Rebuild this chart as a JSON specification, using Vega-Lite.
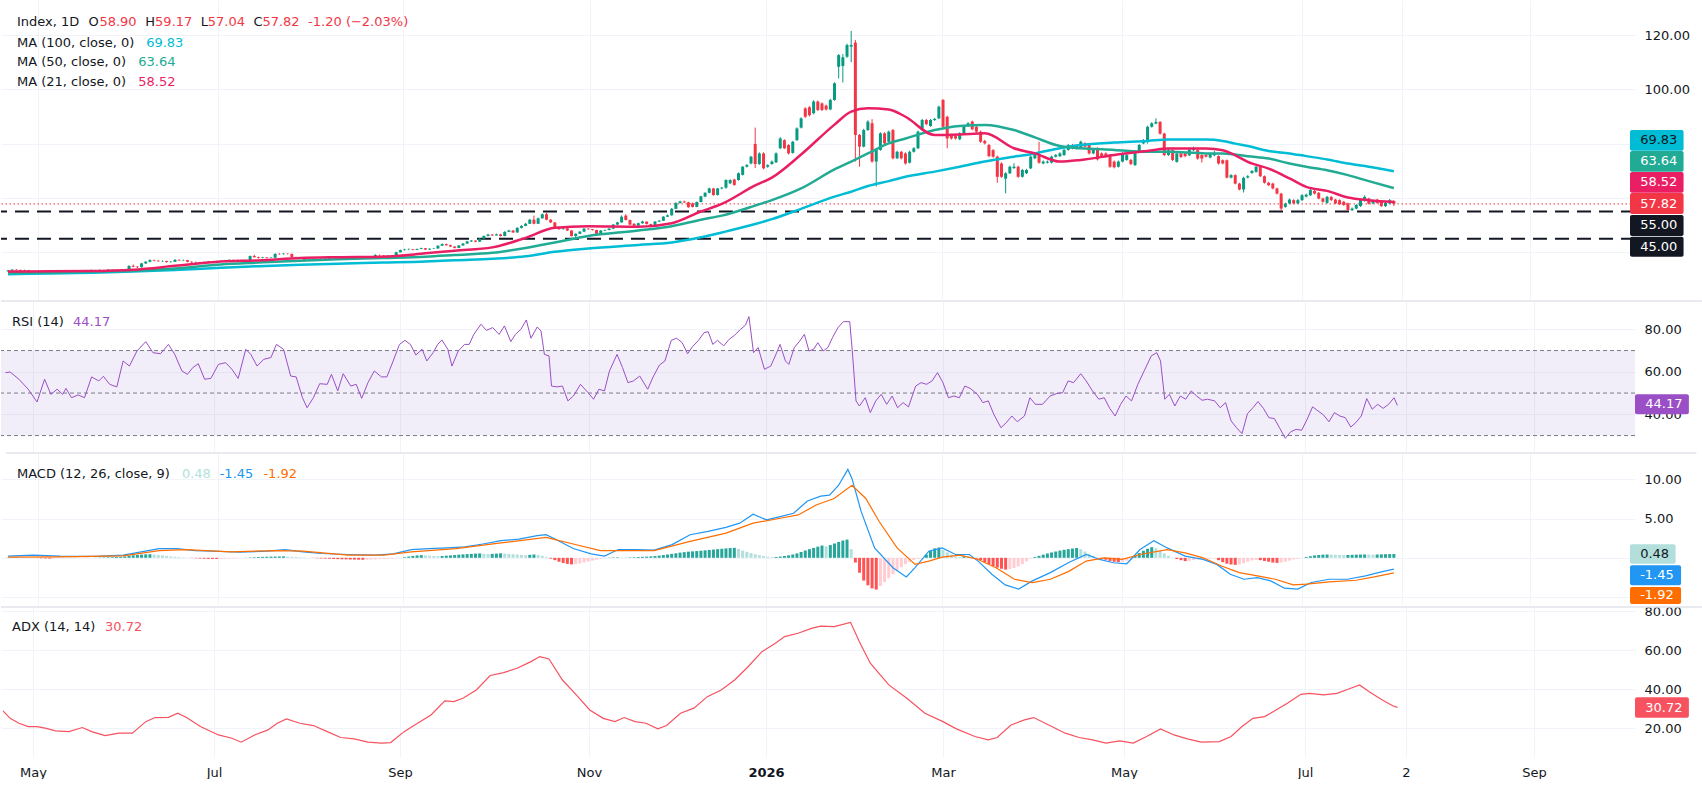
{
  "$schema": "https://vega.github.io/schema/vega-lite/v6.json",
  "background": "#ffffff",
  "padding": 0,
  "spacing": 0,
  "config": {
    "view": {"stroke": null},
    "font": "DejaVu Sans",
    "axis": {"labelFont": "DejaVu Sans", "labelFontSize": 13, "labelColor": "#131722", "gridColor": "#f0f3fa", "gridWidth": 1},
    "text": {"font": "DejaVu Sans", "fontSize": 13}
  },
  "resolve": {"scale": {"x": "independent", "y": "independent"}, "axis": {"x": "independent", "y": "independent"}},
  "datasets": {
    "candles": [
      {"b":0,"o":33.0,"h":33.5,"l":32.8,"c":33.3},{"b":1,"o":33.3,"h":33.8,"l":33.1,"c":33.6},{"b":2,"o":33.6,"h":33.8,"l":33.3,"c":33.5},{"b":3,"o":33.5,"h":33.6,"l":33.0,"c":33.2},{"b":4,"o":33.2,"h":33.6,"l":33.0,"c":33.4},{"b":5,"o":33.4,"h":33.5,"l":32.8,"c":33.0},{"b":6,"o":33.0,"h":33.2,"l":32.6,"c":32.8},{"b":7,"o":32.8,"h":33.1,"l":32.6,"c":32.9},{"b":8,"o":32.9,"h":33.0,"l":32.5,"c":32.7},{"b":9,"o":32.7,"h":33.3,"l":32.6,"c":33.1},
      {"b":10,"o":33.1,"h":33.4,"l":32.9,"c":33.2},{"b":11,"o":33.2,"h":33.3,"l":32.7,"c":32.9},{"b":12,"o":32.9,"h":33.2,"l":32.7,"c":33.0},{"b":13,"o":33.0,"h":33.3,"l":32.8,"c":33.1},{"b":14,"o":33.1,"h":33.5,"l":33.0,"c":33.3},{"b":15,"o":33.3,"h":33.4,"l":32.8,"c":33.0},{"b":16,"o":33.0,"h":33.1,"l":32.6,"c":32.8},{"b":17,"o":32.8,"h":33.1,"l":32.6,"c":32.9},{"b":18,"o":32.9,"h":33.3,"l":32.8,"c":33.1},{"b":19,"o":33.1,"h":33.5,"l":33.0,"c":33.3},
      {"b":20,"o":33.3,"h":33.6,"l":33.1,"c":33.4},{"b":21,"o":33.4,"h":33.5,"l":33.1,"c":33.3},{"b":22,"o":33.3,"h":33.7,"l":33.2,"c":33.5},{"b":23,"o":33.5,"h":33.6,"l":33.2,"c":33.4},{"b":24,"o":33.4,"h":33.8,"l":33.3,"c":33.6},{"b":25,"o":33.6,"h":33.7,"l":33.3,"c":33.5},{"b":26,"o":33.5,"h":33.6,"l":33.2,"c":33.4},{"b":27,"o":33.4,"h":33.7,"l":33.3,"c":33.5},{"b":28,"o":33.5,"h":33.6,"l":33.1,"c":33.3},{"b":29,"o":33.3,"h":35.2,"l":33.2,"c":35.0},
      {"b":30,"o":35.0,"h":35.5,"l":34.5,"c":34.7},{"b":31,"o":34.7,"h":34.9,"l":34.2,"c":34.5},{"b":32,"o":34.5,"h":36.1,"l":34.4,"c":35.9},{"b":33,"o":35.9,"h":36.8,"l":35.7,"c":36.5},{"b":34,"o":36.5,"h":37.4,"l":36.3,"c":37.1},{"b":35,"o":37.1,"h":37.3,"l":36.7,"c":36.9},{"b":36,"o":36.9,"h":37.1,"l":36.5,"c":36.7},{"b":37,"o":36.7,"h":37.0,"l":36.5,"c":36.8},{"b":38,"o":36.8,"h":36.9,"l":36.2,"c":36.4},{"b":39,"o":36.4,"h":36.8,"l":36.2,"c":36.5},
      {"b":40,"o":36.5,"h":37.5,"l":36.4,"c":37.2},{"b":41,"o":37.2,"h":37.4,"l":36.8,"c":37.0},{"b":42,"o":37.0,"h":37.3,"l":36.8,"c":37.1},{"b":43,"o":37.1,"h":37.2,"l":36.3,"c":36.5},{"b":44,"o":36.5,"h":36.7,"l":36.1,"c":36.3},{"b":45,"o":36.3,"h":36.6,"l":36.1,"c":36.4},{"b":46,"o":36.4,"h":36.5,"l":36.0,"c":36.2},{"b":47,"o":36.2,"h":36.6,"l":36.1,"c":36.4},{"b":48,"o":36.4,"h":36.8,"l":36.2,"c":36.6},{"b":49,"o":36.6,"h":36.7,"l":36.3,"c":36.5},
      {"b":50,"o":36.5,"h":36.9,"l":36.4,"c":36.7},{"b":51,"o":36.7,"h":37.0,"l":36.5,"c":36.8},{"b":52,"o":36.8,"h":37.2,"l":36.7,"c":37.0},{"b":53,"o":37.0,"h":37.4,"l":36.9,"c":37.2},{"b":54,"o":37.2,"h":37.3,"l":36.8,"c":37.0},{"b":55,"o":37.0,"h":37.3,"l":36.9,"c":37.1},{"b":56,"o":37.1,"h":37.2,"l":36.7,"c":36.9},{"b":57,"o":36.9,"h":37.2,"l":36.8,"c":37.0},{"b":58,"o":37.0,"h":38.8,"l":36.9,"c":38.6},{"b":59,"o":38.6,"h":39.1,"l":38.0,"c":38.2},
      {"b":60,"o":38.2,"h":38.4,"l":37.7,"c":37.9},{"b":61,"o":37.9,"h":38.3,"l":37.8,"c":38.1},{"b":62,"o":38.1,"h":38.2,"l":37.7,"c":37.9},{"b":63,"o":37.9,"h":38.2,"l":37.8,"c":38.0},{"b":64,"o":38.0,"h":39.6,"l":37.9,"c":39.4},{"b":65,"o":39.4,"h":39.7,"l":39.1,"c":39.3},{"b":66,"o":39.3,"h":39.7,"l":39.2,"c":39.5},{"b":67,"o":39.5,"h":39.6,"l":39.2,"c":39.4},{"b":68,"o":39.4,"h":39.5,"l":38.0,"c":38.2},{"b":69,"o":38.2,"h":38.4,"l":37.8,"c":38.0},
      {"b":70,"o":38.0,"h":38.1,"l":37.6,"c":37.8},{"b":71,"o":37.8,"h":37.9,"l":36.8,"c":37.0},{"b":72,"o":37.0,"h":37.5,"l":36.9,"c":37.3},{"b":73,"o":37.3,"h":37.7,"l":37.2,"c":37.5},{"b":74,"o":37.5,"h":37.6,"l":37.0,"c":37.2},{"b":75,"o":37.2,"h":37.6,"l":37.1,"c":37.4},{"b":76,"o":37.4,"h":37.8,"l":37.3,"c":37.6},{"b":77,"o":37.6,"h":38.2,"l":37.5,"c":38.0},{"b":78,"o":38.0,"h":38.3,"l":37.9,"c":38.1},{"b":79,"o":38.1,"h":38.2,"l":37.7,"c":37.9},
      {"b":80,"o":37.9,"h":38.4,"l":37.8,"c":38.2},{"b":81,"o":38.2,"h":38.3,"l":37.8,"c":38.0},{"b":82,"o":38.0,"h":38.5,"l":37.9,"c":38.3},{"b":83,"o":38.3,"h":38.4,"l":37.9,"c":38.1},{"b":84,"o":38.1,"h":38.2,"l":37.6,"c":37.8},{"b":85,"o":37.8,"h":38.4,"l":37.7,"c":38.2},{"b":86,"o":38.2,"h":38.3,"l":37.9,"c":38.1},{"b":87,"o":38.1,"h":38.5,"l":38.0,"c":38.3},{"b":88,"o":38.3,"h":39.3,"l":38.2,"c":39.0},{"b":89,"o":39.0,"h":39.2,"l":38.7,"c":38.9},
      {"b":90,"o":38.9,"h":39.0,"l":38.5,"c":38.7},{"b":91,"o":38.7,"h":39.0,"l":38.6,"c":38.8},{"b":92,"o":38.8,"h":38.9,"l":38.4,"c":38.6},{"b":93,"o":38.6,"h":40.2,"l":38.5,"c":40.0},{"b":94,"o":40.0,"h":41.0,"l":39.9,"c":40.8},{"b":95,"o":40.8,"h":41.3,"l":40.7,"c":41.0},{"b":96,"o":41.0,"h":41.4,"l":40.8,"c":41.1},{"b":97,"o":41.1,"h":41.2,"l":40.7,"c":40.9},{"b":98,"o":40.9,"h":41.4,"l":40.8,"c":41.2},{"b":99,"o":41.2,"h":41.7,"l":41.1,"c":41.5},
      {"b":100,"o":41.5,"h":41.6,"l":40.8,"c":41.0},{"b":101,"o":41.0,"h":41.5,"l":40.9,"c":41.3},{"b":102,"o":41.3,"h":41.6,"l":41.2,"c":41.4},{"b":103,"o":41.4,"h":42.6,"l":41.3,"c":42.4},{"b":104,"o":42.4,"h":43.3,"l":42.3,"c":43.0},{"b":105,"o":43.0,"h":43.2,"l":42.4,"c":42.6},{"b":106,"o":42.6,"h":42.8,"l":41.9,"c":42.1},{"b":107,"o":42.1,"h":42.2,"l":41.4,"c":41.6},{"b":108,"o":41.6,"h":42.7,"l":41.5,"c":42.5},{"b":109,"o":42.5,"h":43.4,"l":42.4,"c":43.2},
      {"b":110,"o":43.2,"h":44.2,"l":43.1,"c":44.0},{"b":111,"o":44.0,"h":44.5,"l":43.8,"c":44.3},{"b":112,"o":44.3,"h":44.4,"l":43.7,"c":43.9},{"b":113,"o":43.9,"h":45.2,"l":43.8,"c":45.0},{"b":114,"o":45.0,"h":46.2,"l":44.9,"c":46.0},{"b":115,"o":46.0,"h":46.8,"l":45.9,"c":46.5},{"b":116,"o":46.5,"h":46.7,"l":46.0,"c":46.2},{"b":117,"o":46.2,"h":46.9,"l":46.1,"c":46.6},{"b":118,"o":46.6,"h":46.8,"l":45.8,"c":46.0},{"b":119,"o":46.0,"h":47.8,"l":45.9,"c":47.5},
      {"b":120,"o":47.5,"h":48.3,"l":47.4,"c":48.0},{"b":121,"o":48.0,"h":48.2,"l":47.1,"c":47.3},{"b":122,"o":47.3,"h":49.2,"l":47.2,"c":49.0},{"b":123,"o":49.0,"h":50.0,"l":48.8,"c":49.7},{"b":124,"o":49.7,"h":50.8,"l":49.6,"c":50.5},{"b":125,"o":50.5,"h":52.3,"l":50.4,"c":52.0},{"b":126,"o":52.0,"h":53.5,"l":50.3,"c":50.5},{"b":127,"o":50.5,"h":52.8,"l":50.4,"c":52.5},{"b":128,"o":52.5,"h":54.3,"l":52.4,"c":54.0},{"b":129,"o":54.0,"h":54.6,"l":51.8,"c":52.0},
      {"b":130,"o":52.0,"h":52.2,"l":50.8,"c":51.0},{"b":131,"o":51.0,"h":51.1,"l":48.8,"c":49.0},{"b":132,"o":49.0,"h":49.2,"l":48.3,"c":48.5},{"b":133,"o":48.5,"h":49.1,"l":48.4,"c":48.8},{"b":134,"o":48.8,"h":49.0,"l":47.8,"c":48.0},{"b":135,"o":48.0,"h":48.1,"l":45.8,"c":46.0},{"b":136,"o":46.0,"h":47.0,"l":45.4,"c":46.8},{"b":137,"o":46.8,"h":47.8,"l":46.7,"c":47.6},{"b":138,"o":47.6,"h":48.9,"l":47.5,"c":48.7},{"b":139,"o":48.7,"h":48.9,"l":48.3,"c":48.5},
      {"b":140,"o":48.5,"h":48.6,"l":48.0,"c":48.2},{"b":141,"o":48.2,"h":48.3,"l":46.3,"c":46.5},{"b":142,"o":46.5,"h":48.2,"l":46.4,"c":48.0},{"b":143,"o":48.0,"h":48.4,"l":47.8,"c":48.2},{"b":144,"o":48.2,"h":48.9,"l":48.1,"c":48.7},{"b":145,"o":48.7,"h":50.4,"l":48.6,"c":50.2},{"b":146,"o":50.2,"h":51.2,"l":50.0,"c":51.0},{"b":147,"o":51.0,"h":53.6,"l":50.9,"c":53.1},{"b":148,"o":53.5,"h":54.0,"l":51.7,"c":51.9},{"b":149,"o":51.9,"h":52.0,"l":50.0,"c":50.2},
      {"b":150,"o":50.5,"h":50.7,"l":49.6,"c":49.8},{"b":151,"o":49.8,"h":50.9,"l":49.7,"c":50.7},{"b":152,"o":50.7,"h":51.6,"l":50.5,"c":51.3},{"b":153,"o":51.3,"h":51.4,"l":50.2,"c":50.4},{"b":154,"o":50.4,"h":50.5,"l":49.2,"c":49.4},{"b":155,"o":49.4,"h":51.5,"l":49.3,"c":51.3},{"b":156,"o":51.3,"h":51.9,"l":51.1,"c":51.6},{"b":157,"o":51.6,"h":53.3,"l":51.5,"c":53.1},{"b":158,"o":53.1,"h":53.9,"l":53.0,"c":53.6},{"b":159,"o":53.6,"h":56.3,"l":53.5,"c":56.0},
      {"b":160,"o":56.0,"h":58.4,"l":55.9,"c":58.1},{"b":161,"o":58.1,"h":59.0,"l":58.0,"c":58.7},{"b":162,"o":58.7,"h":59.0,"l":58.1,"c":58.4},{"b":163,"o":58.4,"h":58.6,"l":56.4,"c":56.6},{"b":164,"o":58.0,"h":58.3,"l":56.5,"c":56.7},{"b":165,"o":56.7,"h":58.7,"l":56.6,"c":58.5},{"b":166,"o":58.5,"h":60.8,"l":58.4,"c":60.6},{"b":167,"o":60.5,"h":62.1,"l":60.3,"c":61.9},{"b":168,"o":61.9,"h":63.8,"l":61.7,"c":63.5},{"b":169,"o":63.5,"h":63.7,"l":60.8,"c":61.1},
      {"b":170,"o":61.1,"h":63.7,"l":60.9,"c":63.5},{"b":171,"o":63.5,"h":64.0,"l":63.2,"c":63.8},{"b":172,"o":63.8,"h":66.9,"l":63.4,"c":66.6},{"b":173,"o":65.4,"h":66.9,"l":65.1,"c":66.6},{"b":174,"o":66.8,"h":67.1,"l":64.5,"c":64.8},{"b":175,"o":66.6,"h":69.4,"l":66.4,"c":69.1},{"b":176,"o":68.5,"h":71.8,"l":68.3,"c":71.5},{"b":177,"o":71.5,"h":72.5,"l":71.2,"c":72.1},{"b":178,"o":72.7,"h":75.5,"l":72.4,"c":75.2},{"b":179,"o":79.9,"h":85.9,"l":71.0,"c":72.5},
      {"b":180,"o":72.5,"h":76.8,"l":72.2,"c":76.4},{"b":181,"o":76.4,"h":76.8,"l":70.5,"c":70.9},{"b":182,"o":71.5,"h":72.4,"l":71.1,"c":72.1},{"b":183,"o":72.5,"h":73.8,"l":72.2,"c":73.4},{"b":184,"o":73.1,"h":76.8,"l":72.9,"c":76.4},{"b":185,"o":78.3,"h":82.4,"l":78.0,"c":81.9},{"b":186,"o":81.3,"h":81.6,"l":78.0,"c":78.3},{"b":187,"o":79.5,"h":79.8,"l":76.0,"c":76.4},{"b":188,"o":76.6,"h":81.0,"l":76.3,"c":80.7},{"b":189,"o":81.3,"h":86.0,"l":81.0,"c":85.6},
      {"b":190,"o":85.9,"h":89.7,"l":85.6,"c":89.3},{"b":191,"o":93.0,"h":93.4,"l":89.5,"c":89.9},{"b":192,"o":93.4,"h":93.8,"l":90.0,"c":90.5},{"b":193,"o":91.2,"h":96.0,"l":90.8,"c":95.5},{"b":194,"o":95.5,"h":95.9,"l":92.0,"c":92.4},{"b":195,"o":94.8,"h":95.2,"l":92.0,"c":92.4},{"b":196,"o":94.0,"h":94.4,"l":92.2,"c":92.6},{"b":197,"o":92.6,"h":96.5,"l":92.3,"c":96.1},{"b":198,"o":96.1,"h":102.6,"l":95.8,"c":102.2},{"b":199,"o":108.3,"h":113.0,"l":104.0,"c":112.6},
      {"b":200,"o":108.6,"h":113.0,"l":102.5,"c":111.8},{"b":201,"o":112.0,"h":116.8,"l":111.6,"c":116.3},{"b":202,"o":115.7,"h":121.5,"l":110.0,"c":116.3},{"b":203,"o":117.2,"h":118.2,"l":73.4,"c":83.2},{"b":204,"o":83.2,"h":83.6,"l":71.5,"c":78.9},{"b":205,"o":78.9,"h":85.5,"l":78.6,"c":85.0},{"b":206,"o":85.0,"h":88.6,"l":84.7,"c":88.1},{"b":207,"o":87.5,"h":89.0,"l":73.0,"c":73.4},{"b":208,"o":73.4,"h":78.1,"l":64.2,"c":77.7},{"b":209,"o":77.7,"h":84.2,"l":77.4,"c":83.8},
      {"b":210,"o":83.8,"h":84.2,"l":79.7,"c":80.1},{"b":211,"o":80.7,"h":84.8,"l":80.4,"c":84.4},{"b":212,"o":85.0,"h":85.4,"l":74.2,"c":74.6},{"b":213,"o":74.6,"h":77.4,"l":74.3,"c":77.0},{"b":214,"o":77.0,"h":77.3,"l":74.2,"c":74.6},{"b":215,"o":76.4,"h":76.8,"l":72.3,"c":72.7},{"b":216,"o":73.0,"h":77.4,"l":72.7,"c":77.0},{"b":217,"o":77.0,"h":78.7,"l":76.7,"c":78.3},{"b":218,"o":78.3,"h":84.8,"l":78.0,"c":84.4},{"b":219,"o":85.0,"h":89.1,"l":84.7,"c":88.7},
      {"b":220,"o":88.7,"h":89.1,"l":86.8,"c":87.2},{"b":221,"o":86.5,"h":89.1,"l":86.2,"c":88.7},{"b":222,"o":88.7,"h":89.5,"l":88.4,"c":89.1},{"b":223,"o":89.3,"h":94.0,"l":89.0,"c":93.6},{"b":224,"o":96.1,"h":96.4,"l":85.8,"c":86.2},{"b":225,"o":89.9,"h":90.3,"l":78.3,"c":81.9},{"b":226,"o":83.2,"h":83.6,"l":81.5,"c":81.9},{"b":227,"o":82.8,"h":83.2,"l":81.5,"c":81.9},{"b":228,"o":81.6,"h":84.2,"l":81.3,"c":83.8},{"b":229,"o":83.8,"h":86.9,"l":83.5,"c":86.5},
      {"b":230,"o":86.5,"h":87.9,"l":86.2,"c":87.5},{"b":231,"o":88.1,"h":88.5,"l":84.9,"c":85.3},{"b":232,"o":86.2,"h":86.6,"l":84.0,"c":84.4},{"b":233,"o":84.4,"h":84.8,"l":80.3,"c":80.7},{"b":234,"o":81.0,"h":81.4,"l":79.7,"c":80.1},{"b":235,"o":79.5,"h":79.9,"l":75.0,"c":75.4},{"b":236,"o":77.6,"h":78.0,"l":74.8,"c":75.2},{"b":237,"o":75.2,"h":75.6,"l":65.6,"c":67.8},{"b":238,"o":72.7,"h":73.1,"l":67.4,"c":67.8},{"b":239,"o":67.1,"h":69.5,"l":61.7,"c":69.1},
      {"b":240,"o":69.1,"h":71.9,"l":68.8,"c":71.5},{"b":241,"o":71.0,"h":72.8,"l":70.7,"c":71.5},{"b":242,"o":71.5,"h":71.9,"l":67.4,"c":67.8},{"b":243,"o":67.8,"h":70.7,"l":67.5,"c":70.3},{"b":244,"o":69.1,"h":70.7,"l":68.8,"c":70.3},{"b":245,"o":70.9,"h":75.6,"l":70.6,"c":75.2},{"b":246,"o":74.6,"h":76.2,"l":74.3,"c":75.8},{"b":247,"o":75.8,"h":80.7,"l":72.6,"c":73.0},{"b":248,"o":72.7,"h":73.8,"l":72.4,"c":73.4},{"b":249,"o":73.0,"h":73.8,"l":72.7,"c":73.4},
      {"b":250,"o":73.0,"h":75.6,"l":72.7,"c":75.2},{"b":251,"o":75.2,"h":76.2,"l":74.9,"c":75.8},{"b":252,"o":75.4,"h":76.8,"l":75.1,"c":76.4},{"b":253,"o":75.8,"h":78.1,"l":75.5,"c":77.7},{"b":254,"o":77.7,"h":79.9,"l":77.4,"c":79.5},{"b":255,"o":79.5,"h":79.9,"l":77.9,"c":78.3},{"b":256,"o":79.2,"h":79.6,"l":77.9,"c":78.3},{"b":257,"o":78.3,"h":81.1,"l":78.0,"c":80.7},{"b":258,"o":80.1,"h":80.5,"l":78.5,"c":78.9},{"b":259,"o":79.5,"h":79.9,"l":76.0,"c":76.4},
      {"b":260,"o":76.4,"h":78.3,"l":76.1,"c":77.9},{"b":261,"o":78.3,"h":78.7,"l":73.8,"c":74.2},{"b":262,"o":76.4,"h":76.8,"l":74.8,"c":75.2},{"b":263,"o":76.4,"h":76.8,"l":74.8,"c":75.2},{"b":264,"o":75.8,"h":76.2,"l":71.1,"c":71.5},{"b":265,"o":73.4,"h":73.8,"l":70.9,"c":71.3},{"b":266,"o":71.5,"h":73.8,"l":71.2,"c":73.4},{"b":267,"o":73.4,"h":76.8,"l":73.1,"c":76.4},{"b":268,"o":74.0,"h":76.2,"l":73.7,"c":75.8},{"b":269,"o":74.0,"h":74.4,"l":72.1,"c":72.5},
      {"b":270,"o":72.1,"h":77.4,"l":71.8,"c":77.0},{"b":271,"o":77.0,"h":79.9,"l":76.7,"c":79.5},{"b":272,"o":80.1,"h":81.7,"l":79.8,"c":81.3},{"b":273,"o":81.3,"h":86.6,"l":80.0,"c":86.2},{"b":274,"o":86.2,"h":87.9,"l":85.9,"c":87.5},{"b":275,"o":87.4,"h":89.3,"l":87.1,"c":88.0},{"b":276,"o":88.0,"h":88.3,"l":83.3,"c":83.7},{"b":277,"o":83.7,"h":84.0,"l":75.4,"c":75.8},{"b":278,"o":75.8,"h":78.0,"l":75.5,"c":77.6},{"b":279,"o":77.6,"h":77.9,"l":73.6,"c":74.0},
      {"b":280,"o":73.3,"h":76.8,"l":73.0,"c":76.4},{"b":281,"o":76.4,"h":76.8,"l":74.7,"c":75.1},{"b":282,"o":76.4,"h":76.7,"l":75.0,"c":75.4},{"b":283,"o":75.7,"h":78.2,"l":75.4,"c":77.8},{"b":284,"o":77.6,"h":78.9,"l":77.3,"c":78.2},{"b":285,"o":77.6,"h":77.9,"l":74.1,"c":74.5},{"b":286,"o":75.8,"h":76.1,"l":73.0,"c":74.5},{"b":287,"o":75.8,"h":76.1,"l":74.9,"c":75.2},{"b":288,"o":74.9,"h":76.6,"l":74.6,"c":76.2},{"b":289,"o":75.7,"h":77.4,"l":75.4,"c":76.6},
      {"b":290,"o":75.4,"h":75.7,"l":72.3,"c":72.7},{"b":291,"o":73.9,"h":74.2,"l":72.4,"c":72.7},{"b":292,"o":73.9,"h":74.2,"l":67.2,"c":67.5},{"b":293,"o":67.5,"h":68.8,"l":67.2,"c":68.4},{"b":294,"o":68.4,"h":68.7,"l":65.0,"c":65.3},{"b":295,"o":65.3,"h":65.6,"l":62.8,"c":63.1},{"b":296,"o":63.1,"h":67.8,"l":62.0,"c":67.4},{"b":297,"o":67.5,"h":68.4,"l":67.2,"c":68.0},{"b":298,"o":69.2,"h":70.3,"l":68.9,"c":69.9},{"b":299,"o":69.6,"h":71.9,"l":69.3,"c":71.5},
      {"b":300,"o":71.5,"h":71.8,"l":67.7,"c":68.0},{"b":301,"o":68.0,"h":68.3,"l":65.3,"c":65.6},{"b":302,"o":65.6,"h":65.9,"l":64.4,"c":64.7},{"b":303,"o":65.3,"h":65.6,"l":63.2,"c":63.5},{"b":304,"o":63.5,"h":63.8,"l":61.3,"c":61.6},{"b":305,"o":61.6,"h":61.9,"l":55.2,"c":56.1},{"b":306,"o":56.7,"h":58.3,"l":56.4,"c":57.9},{"b":307,"o":58.0,"h":59.8,"l":57.7,"c":59.4},{"b":308,"o":59.2,"h":59.5,"l":57.7,"c":58.0},{"b":309,"o":58.0,"h":59.6,"l":57.7,"c":59.2},
      {"b":310,"o":59.2,"h":61.4,"l":58.9,"c":61.0},{"b":311,"o":60.5,"h":61.6,"l":60.2,"c":61.2},{"b":312,"o":61.0,"h":63.3,"l":60.7,"c":62.9},{"b":313,"o":62.6,"h":62.9,"l":61.3,"c":61.6},{"b":314,"o":61.9,"h":62.2,"l":59.5,"c":59.8},{"b":315,"o":59.8,"h":60.1,"l":58.3,"c":58.6},{"b":316,"o":58.2,"h":60.8,"l":57.9,"c":60.4},{"b":317,"o":60.4,"h":60.7,"l":58.9,"c":59.2},{"b":318,"o":59.4,"h":59.7,"l":57.7,"c":58.0},{"b":319,"o":59.2,"h":59.5,"l":57.4,"c":57.7},
      {"b":320,"o":58.6,"h":58.9,"l":57.1,"c":57.4},{"b":321,"o":58.0,"h":58.3,"l":55.2,"c":55.5},{"b":322,"o":55.5,"h":56.5,"l":55.2,"c":56.1},{"b":323,"o":56.1,"h":57.8,"l":55.8,"c":57.4},{"b":324,"o":57.0,"h":59.6,"l":56.7,"c":59.2},{"b":325,"o":58.9,"h":61.0,"l":58.6,"c":60.4},{"b":326,"o":59.8,"h":60.1,"l":57.6,"c":57.9},{"b":327,"o":58.0,"h":59.4,"l":57.7,"c":59.0},{"b":328,"o":59.4,"h":59.7,"l":57.9,"c":58.2},{"b":329,"o":58.9,"h":59.2,"l":56.7,"c":57.0},
      {"b":330,"o":57.0,"h":58.6,"l":56.7,"c":58.2},{"b":331,"o":58.0,"h":59.6,"l":57.7,"c":59.2},{"b":332,"o":58.90,"h":59.17,"l":57.04,"c":57.82}
    ],
    "ma21": [
      {"b":0,"v":32.9},{"b":10,"v":33.0},{"b":20,"v":33.1},{"b":30,"v":33.6},{"b":40,"v":35.0},{"b":51,"v":36.6},{"b":60,"v":37.0},{"b":70,"v":37.9},{"b":79,"v":38.2},{"b":90,"v":38.4},{"b":100,"v":39.6},{"b":107,"v":40.6},{"b":116,"v":41.8},{"b":124,"v":45.3},{"b":131,"v":49.0},{"b":139,"v":49.6},{"b":151,"v":49.4},{"b":159,"v":50.7},{"b":166,"v":55.0},{"b":171,"v":57.8},{"b":179,"v":64.6},{"b":183,"v":67.5},{"b":190,"v":76.0},{"b":198,"v":87.0},{"b":202,"v":91.8},{"b":206,"v":93.0},{"b":211,"v":92.6},{"b":215,"v":89.9},{"b":222,"v":83.2},{"b":228,"v":83.4},{"b":234,"v":83.8},{"b":241,"v":78.3},{"b":246,"v":76.4},{"b":252,"v":73.4},{"b":257,"v":74.0},{"b":265,"v":75.8},{"b":273,"v":77.3},{"b":278,"v":78.2},{"b":287,"v":78.2},{"b":291,"v":77.6},{"b":294,"v":75.7},{"b":297,"v":73.3},{"b":302,"v":70.8},{"b":307,"v":67.2},{"b":311,"v":64.1},{"b":316,"v":62.6},{"b":321,"v":60.2},{"b":326,"v":59.2},{"b":332,"v":58.52}
    ],
    "ma50": [
      {"b":0,"v":32.4},{"b":10,"v":32.6},{"b":20,"v":32.9},{"b":30,"v":33.2},{"b":40,"v":34.0},{"b":51,"v":35.5},{"b":60,"v":36.2},{"b":70,"v":36.9},{"b":79,"v":37.4},{"b":90,"v":37.9},{"b":100,"v":38.4},{"b":107,"v":39.0},{"b":116,"v":39.8},{"b":124,"v":41.6},{"b":131,"v":43.6},{"b":139,"v":46.0},{"b":151,"v":48.0},{"b":159,"v":49.6},{"b":166,"v":52.0},{"b":171,"v":53.5},{"b":179,"v":57.2},{"b":183,"v":59.2},{"b":190,"v":63.5},{"b":198,"v":70.5},{"b":202,"v":73.4},{"b":206,"v":76.4},{"b":211,"v":80.1},{"b":215,"v":81.9},{"b":222,"v":85.0},{"b":228,"v":86.5},{"b":234,"v":86.9},{"b":241,"v":85.0},{"b":246,"v":82.3},{"b":252,"v":79.1},{"b":257,"v":78.3},{"b":265,"v":77.7},{"b":273,"v":77.0},{"b":278,"v":77.0},{"b":287,"v":76.4},{"b":291,"v":76.4},{"b":294,"v":76.0},{"b":297,"v":75.4},{"b":302,"v":74.5},{"b":307,"v":72.7},{"b":311,"v":71.5},{"b":316,"v":70.2},{"b":321,"v":68.4},{"b":326,"v":66.2},{"b":332,"v":63.64}
    ],
    "ma100": [
      {"b":0,"v":31.9},{"b":10,"v":32.2},{"b":20,"v":32.5},{"b":30,"v":32.9},{"b":40,"v":33.5},{"b":51,"v":34.3},{"b":60,"v":34.9},{"b":70,"v":35.4},{"b":79,"v":35.8},{"b":90,"v":36.2},{"b":100,"v":36.6},{"b":107,"v":37.1},{"b":116,"v":37.6},{"b":124,"v":38.5},{"b":131,"v":40.2},{"b":139,"v":41.4},{"b":151,"v":42.7},{"b":159,"v":43.6},{"b":166,"v":45.5},{"b":171,"v":47.3},{"b":179,"v":50.4},{"b":183,"v":52.2},{"b":190,"v":56.0},{"b":198,"v":60.5},{"b":202,"v":62.3},{"b":206,"v":64.4},{"b":211,"v":66.2},{"b":215,"v":67.8},{"b":222,"v":69.7},{"b":228,"v":71.5},{"b":234,"v":73.4},{"b":241,"v":75.2},{"b":246,"v":76.4},{"b":252,"v":78.3},{"b":257,"v":79.5},{"b":265,"v":80.4},{"b":273,"v":81.0},{"b":278,"v":81.5},{"b":287,"v":81.5},{"b":291,"v":81.0},{"b":294,"v":80.0},{"b":297,"v":79.1},{"b":302,"v":77.3},{"b":307,"v":76.4},{"b":311,"v":75.4},{"b":316,"v":74.2},{"b":321,"v":72.7},{"b":326,"v":71.5},{"b":332,"v":69.83}
    ],
    "rsi": [
      {"b":0.6,"r":59.6},{"b":1.7,"r":59.9},{"b":3.8,"r":56.5},{"b":6.0,"r":51.8},{"b":8.1,"r":45.8},{"b":9.9,"r":56.5},{"b":11.4,"r":49.4},{"b":12.9,"r":51.8},{"b":14.2,"r":49.4},{"b":15.0,"r":52.2},{"b":16.3,"r":47.8},{"b":17.9,"r":49.1},{"b":19.4,"r":47.8},{"b":21.1,"r":57.6},{"b":22.8,"r":55.7},{"b":23.9,"r":57.9},{"b":25.4,"r":54.1},{"b":27.1,"r":52.9},{"b":28.6,"r":65.1},{"b":30.1,"r":62.7},{"b":31.9,"r":69.8},{"b":34.0,"r":74.2},{"b":35.7,"r":69.0},{"b":37.5,"r":68.5},{"b":39.4,"r":72.9},{"b":40.9,"r":68.2},{"b":42.6,"r":60.4},{"b":43.9,"r":58.8},{"b":45.2,"r":62.0},{"b":46.5,"r":63.8},{"b":48.0,"r":56.5},{"b":49.5,"r":56.9},{"b":51.3,"r":63.5},{"b":53.0,"r":64.3},{"b":54.5,"r":61.2},{"b":56.0,"r":56.9},{"b":57.8,"r":70.6},{"b":59.0,"r":68.2},{"b":60.5,"r":62.7},{"b":62.1,"r":65.9},{"b":63.8,"r":66.7},{"b":65.1,"r":72.9},{"b":66.8,"r":70.6},{"b":68.5,"r":58.0},{"b":69.8,"r":57.6},{"b":71.3,"r":47.8},{"b":72.4,"r":43.1},{"b":73.9,"r":47.8},{"b":75.4,"r":54.4},{"b":77.2,"r":54.1},{"b":78.2,"r":58.8},{"b":79.7,"r":51.0},{"b":81.0,"r":59.1},{"b":82.8,"r":53.3},{"b":84.1,"r":54.1},{"b":85.4,"r":47.5},{"b":86.9,"r":54.9},{"b":88.4,"r":60.4},{"b":90.1,"r":57.6},{"b":91.4,"r":57.6},{"b":92.9,"r":65.1},{"b":94.4,"r":72.9},{"b":95.7,"r":74.8},{"b":97.0,"r":72.9},{"b":98.3,"r":67.9},{"b":99.8,"r":70.6},{"b":100.9,"r":65.1},{"b":102.4,"r":69.0},{"b":103.5,"r":72.9},{"b":104.5,"r":75.0},{"b":105.9,"r":70.6},{"b":106.9,"r":62.7},{"b":108.4,"r":69.8},{"b":109.9,"r":72.9},{"b":111.0,"r":72.9},{"b":112.1,"r":77.6},{"b":113.8,"r":82.4},{"b":115.1,"r":79.5},{"b":116.6,"r":80.8},{"b":118.1,"r":77.6},{"b":119.4,"r":81.6},{"b":120.9,"r":74.2},{"b":122.0,"r":77.6},{"b":123.3,"r":80.0},{"b":124.6,"r":84.4},{"b":125.7,"r":75.8},{"b":127.2,"r":81.1},{"b":128.1,"r":79.2},{"b":128.9,"r":68.2},{"b":130.0,"r":67.5},{"b":130.6,"r":53.3},{"b":131.9,"r":52.9},{"b":133.2,"r":53.3},{"b":134.5,"r":46.3},{"b":135.8,"r":48.6},{"b":137.5,"r":54.1},{"b":139.3,"r":50.2},{"b":140.6,"r":47.1},{"b":141.9,"r":51.8},{"b":143.2,"r":51.0},{"b":144.4,"r":60.4},{"b":146.2,"r":68.2},{"b":147.5,"r":62.0},{"b":148.8,"r":54.9},{"b":150.1,"r":55.7},{"b":151.6,"r":58.0},{"b":153.5,"r":51.8},{"b":154.8,"r":57.6},{"b":156.3,"r":63.2},{"b":157.6,"r":65.1},{"b":159.1,"r":74.8},{"b":160.4,"r":75.8},{"b":161.7,"r":73.7},{"b":163.0,"r":68.5},{"b":164.1,"r":71.7},{"b":165.6,"r":74.8},{"b":166.9,"r":78.4},{"b":167.9,"r":78.9},{"b":169.0,"r":72.9},{"b":170.1,"r":74.8},{"b":171.6,"r":72.2},{"b":172.9,"r":75.3},{"b":174.2,"r":77.2},{"b":175.5,"r":79.8},{"b":176.8,"r":82.0},{"b":177.6,"r":86.0},{"b":178.7,"r":69.0},{"b":179.8,"r":71.4},{"b":181.3,"r":61.2},{"b":182.8,"r":62.7},{"b":184.1,"r":68.5},{"b":185.0,"r":72.9},{"b":186.3,"r":65.1},{"b":187.1,"r":63.5},{"b":188.4,"r":71.4},{"b":189.7,"r":74.5},{"b":190.8,"r":77.6},{"b":191.9,"r":69.8},{"b":193.0,"r":70.6},{"b":194.0,"r":73.7},{"b":195.3,"r":69.8},{"b":196.4,"r":71.4},{"b":197.5,"r":76.1},{"b":198.8,"r":80.8},{"b":200.1,"r":83.6},{"b":201.6,"r":83.6},{"b":202.2,"r":70.1},{"b":203.1,"r":46.3},{"b":203.9,"r":43.9},{"b":205.3,"r":47.8},{"b":206.5,"r":40.8},{"b":207.8,"r":46.3},{"b":209.1,"r":49.4},{"b":210.4,"r":44.7},{"b":211.7,"r":48.6},{"b":213.0,"r":43.1},{"b":214.3,"r":45.5},{"b":215.6,"r":43.5},{"b":217.3,"r":53.3},{"b":218.6,"r":54.9},{"b":219.9,"r":54.1},{"b":221.2,"r":55.7},{"b":222.5,"r":59.6},{"b":223.8,"r":54.9},{"b":225.1,"r":47.8},{"b":226.4,"r":48.6},{"b":227.7,"r":47.8},{"b":229.0,"r":53.3},{"b":230.3,"r":52.2},{"b":232.0,"r":49.4},{"b":233.3,"r":45.5},{"b":234.6,"r":46.3},{"b":235.9,"r":40.0},{"b":237.6,"r":33.7},{"b":238.9,"r":36.1},{"b":240.2,"r":39.2},{"b":241.5,"r":36.5},{"b":243.2,"r":39.2},{"b":244.5,"r":47.8},{"b":245.8,"r":44.7},{"b":247.5,"r":44.7},{"b":249.3,"r":48.6},{"b":250.8,"r":49.7},{"b":252.3,"r":50.2},{"b":253.6,"r":55.7},{"b":254.9,"r":54.9},{"b":256.6,"r":59.1},{"b":257.9,"r":55.7},{"b":259.4,"r":51.0},{"b":260.9,"r":47.1},{"b":262.2,"r":47.8},{"b":263.5,"r":42.8},{"b":264.8,"r":39.2},{"b":266.1,"r":44.7},{"b":267.4,"r":48.6},{"b":268.7,"r":46.3},{"b":270.2,"r":54.1},{"b":271.7,"r":60.4},{"b":273.4,"r":67.5},{"b":274.7,"r":69.0},{"b":275.6,"r":65.1},{"b":276.6,"r":47.1},{"b":277.7,"r":49.4},{"b":279.0,"r":43.9},{"b":280.3,"r":48.6},{"b":281.6,"r":47.1},{"b":282.9,"r":51.0},{"b":284.2,"r":48.6},{"b":285.5,"r":46.6},{"b":286.8,"r":47.1},{"b":288.5,"r":46.3},{"b":289.8,"r":43.1},{"b":291.1,"r":45.5},{"b":292.4,"r":36.9},{"b":293.7,"r":33.7},{"b":295.0,"r":30.9},{"b":296.3,"r":40.3},{"b":297.6,"r":43.1},{"b":298.8,"r":46.0},{"b":300.1,"r":42.8},{"b":301.4,"r":38.4},{"b":302.7,"r":38.0},{"b":304.0,"r":33.4},{"b":305.3,"r":28.7},{"b":306.6,"r":31.8},{"b":307.9,"r":32.9},{"b":309.2,"r":32.5},{"b":310.5,"r":37.6},{"b":311.8,"r":43.5},{"b":313.1,"r":41.6},{"b":314.4,"r":39.7},{"b":315.7,"r":36.5},{"b":317.0,"r":40.8},{"b":318.3,"r":39.2},{"b":319.6,"r":38.4},{"b":320.9,"r":34.0},{"b":322.1,"r":36.1},{"b":323.4,"r":39.2},{"b":324.7,"r":47.4},{"b":326.0,"r":42.4},{"b":327.3,"r":44.7},{"b":328.6,"r":42.8},{"b":329.9,"r":44.7},{"b":331.2,"r":47.8},{"b":332.0,"r":44.17}
    ],
    "hist": [
      {"b":0,"h":0.04},{"b":1,"h":0.06},{"b":2,"h":0.07},{"b":3,"h":0.06},{"b":4,"h":0.04},{"b":5,"h":0.02},{"b":6,"h":0.01},{"b":7,"h":-0.03},{"b":8,"h":-0.06},{"b":9,"h":-0.08},{"b":10,"h":-0.10},{"b":11,"h":-0.08},{"b":12,"h":-0.05},{"b":13,"h":-0.03},{"b":14,"h":-0.01},{"b":15,"h":0.01},{"b":16,"h":0.02},{"b":17,"h":0.01},{"b":18,"h":-0.01},{"b":19,"h":-0.02},{"b":20,"h":-0.01},
      {"b":21,"h":0.02},{"b":22,"h":0.04},{"b":23,"h":0.05},{"b":24,"h":0.07},{"b":25,"h":0.08},{"b":26,"h":0.10},{"b":27,"h":0.12},{"b":28,"h":0.18},{"b":29,"h":0.26},{"b":30,"h":0.32},{"b":31,"h":0.37},{"b":32,"h":0.41},{"b":33,"h":0.44},{"b":34,"h":0.46},{"b":35,"h":0.42},{"b":36,"h":0.36},{"b":37,"h":0.30},{"b":38,"h":0.24},{"b":39,"h":0.18},{"b":40,"h":0.13},{"b":41,"h":0.09},{"b":42,"h":0.05},{"b":43,"h":0.02},
      {"b":44,"h":-0.03},{"b":45,"h":-0.06},{"b":46,"h":-0.09},{"b":47,"h":-0.11},{"b":48,"h":-0.13},{"b":49,"h":-0.14},{"b":50,"h":-0.15},{"b":51,"h":-0.13},{"b":52,"h":-0.11},{"b":53,"h":-0.09},{"b":54,"h":-0.07},{"b":55,"h":-0.05},{"b":56,"h":-0.02},
      {"b":57,"h":0.02},{"b":58,"h":0.05},{"b":59,"h":0.08},{"b":60,"h":0.10},{"b":61,"h":0.12},{"b":62,"h":0.14},{"b":63,"h":0.15},{"b":64,"h":0.16},{"b":65,"h":0.17},{"b":66,"h":0.18},{"b":67,"h":0.15},{"b":68,"h":0.12},{"b":69,"h":0.09},{"b":70,"h":0.07},{"b":71,"h":0.05},{"b":72,"h":0.02},
      {"b":73,"h":-0.02},{"b":74,"h":-0.05},{"b":75,"h":-0.08},{"b":76,"h":-0.10},{"b":77,"h":-0.12},{"b":78,"h":-0.15},{"b":79,"h":-0.17},{"b":80,"h":-0.19},{"b":81,"h":-0.20},{"b":82,"h":-0.22},{"b":83,"h":-0.23},{"b":84,"h":-0.24},{"b":85,"h":-0.25},{"b":86,"h":-0.24},{"b":87,"h":-0.22},{"b":88,"h":-0.20},{"b":89,"h":-0.17},{"b":90,"h":-0.14},{"b":91,"h":-0.11},{"b":92,"h":-0.08},{"b":93,"h":-0.05},{"b":94,"h":-0.02},
      {"b":95,"h":0.08},{"b":96,"h":0.16},{"b":97,"h":0.24},{"b":98,"h":0.30},{"b":99,"h":0.34},{"b":100,"h":0.31},{"b":101,"h":0.27},{"b":102,"h":0.23},{"b":103,"h":0.21},{"b":104,"h":0.23},{"b":105,"h":0.27},{"b":106,"h":0.31},{"b":107,"h":0.35},{"b":108,"h":0.40},{"b":109,"h":0.44},{"b":110,"h":0.47},{"b":111,"h":0.50},{"b":112,"h":0.53},
      {"b":113,"h":0.56},{"b":114,"h":0.51},{"b":115,"h":0.47},{"b":116,"h":0.50},{"b":117,"h":0.54},{"b":118,"h":0.57},{"b":119,"h":0.53},{"b":120,"h":0.49},{"b":121,"h":0.45},{"b":122,"h":0.41},{"b":123,"h":0.37},{"b":124,"h":0.33},{"b":125,"h":0.38},{"b":126,"h":0.42},{"b":127,"h":0.36},{"b":128,"h":0.25},{"b":129,"h":0.12},
      {"b":130,"h":-0.10},{"b":131,"h":-0.30},{"b":132,"h":-0.50},{"b":133,"h":-0.66},{"b":134,"h":-0.78},{"b":135,"h":-0.84},{"b":136,"h":-0.80},{"b":137,"h":-0.72},{"b":138,"h":-0.60},{"b":139,"h":-0.48},{"b":140,"h":-0.36},{"b":141,"h":-0.25},{"b":142,"h":-0.14},{"b":143,"h":-0.05},
      {"b":144,"h":0.03},{"b":145,"h":0.05},{"b":146,"h":0.06},{"b":147,"h":0.05},{"b":148,"h":0.04},{"b":149,"h":0.05},{"b":150,"h":0.07},{"b":151,"h":0.10},{"b":152,"h":0.12},{"b":153,"h":0.15},{"b":154,"h":0.18},{"b":155,"h":0.22},{"b":156,"h":0.28},
      {"b":157,"h":0.35},{"b":158,"h":0.42},{"b":159,"h":0.50},{"b":160,"h":0.58},{"b":161,"h":0.66},{"b":162,"h":0.72},{"b":163,"h":0.78},{"b":164,"h":0.82},{"b":165,"h":0.86},{"b":166,"h":0.90},{"b":167,"h":0.95},{"b":168,"h":1.00},{"b":169,"h":1.05},{"b":170,"h":1.10},{"b":171,"h":1.15},{"b":172,"h":1.20},{"b":173,"h":1.24},{"b":174,"h":1.27},{"b":175,"h":1.12},{"b":176,"h":0.92},{"b":177,"h":0.76},{"b":178,"h":0.60},
      {"b":179,"h":0.46},{"b":180,"h":0.33},{"b":181,"h":0.22},{"b":182,"h":0.13},{"b":183,"h":0.09},{"b":184,"h":0.11},{"b":185,"h":0.16},{"b":186,"h":0.23},{"b":187,"h":0.31},
      {"b":188,"h":0.42},{"b":189,"h":0.56},{"b":190,"h":0.74},{"b":191,"h":0.93},{"b":192,"h":1.10},{"b":193,"h":1.26},{"b":194,"h":1.42},{"b":195,"h":1.56},{"b":196,"h":1.46},{"b":197,"h":1.62},{"b":198,"h":1.82},{"b":199,"h":2.02},{"b":200,"h":2.20},{"b":201,"h":2.32},
      {"b":202,"h":1.10},{"b":203,"h":-0.60},{"b":204,"h":-1.90},{"b":205,"h":-2.90},{"b":206,"h":-3.50},{"b":207,"h":-3.90},{"b":208,"h":-4.05},{"b":209,"h":-3.60},{"b":210,"h":-3.10},{"b":211,"h":-2.60},{"b":212,"h":-2.10},{"b":213,"h":-1.60},{"b":214,"h":-1.20},{"b":215,"h":-0.80},{"b":216,"h":-0.50},{"b":217,"h":-0.30},{"b":218,"h":-0.15},{"b":219,"h":-0.05},
      {"b":220,"h":0.40},{"b":221,"h":0.90},{"b":222,"h":1.20},{"b":223,"h":1.30},{"b":224,"h":1.00},{"b":225,"h":0.70},{"b":226,"h":0.40},{"b":227,"h":0.15},{"b":228,"h":0.10},{"b":229,"h":0.20},{"b":230,"h":0.18},{"b":231,"h":0.05},{"b":232,"h":-0.10},
      {"b":233,"h":-0.30},{"b":234,"h":-0.55},{"b":235,"h":-0.80},{"b":236,"h":-1.05},{"b":237,"h":-1.25},{"b":238,"h":-1.40},{"b":239,"h":-1.50},{"b":240,"h":-1.45},{"b":241,"h":-1.30},{"b":242,"h":-1.10},{"b":243,"h":-0.80},{"b":244,"h":-0.45},{"b":245,"h":-0.10},
      {"b":246,"h":0.10},{"b":247,"h":0.25},{"b":248,"h":0.40},{"b":249,"h":0.55},{"b":250,"h":0.68},{"b":251,"h":0.80},{"b":252,"h":0.92},{"b":253,"h":1.02},{"b":254,"h":1.10},{"b":255,"h":1.18},{"b":256,"h":1.25},{"b":257,"h":1.10},{"b":258,"h":0.80},
      {"b":259,"h":0.50},{"b":260,"h":0.25},{"b":261,"h":0.05},{"b":262,"h":-0.10},{"b":263,"h":-0.25},{"b":264,"h":-0.40},{"b":265,"h":-0.50},{"b":266,"h":-0.55},{"b":267,"h":-0.50},{"b":268,"h":-0.35},{"b":269,"h":-0.15},
      {"b":270,"h":0.25},{"b":271,"h":0.60},{"b":272,"h":0.90},{"b":273,"h":1.15},{"b":274,"h":1.35},{"b":275,"h":1.20},{"b":276,"h":0.90},{"b":277,"h":0.55},{"b":278,"h":0.25},{"b":279,"h":0.05},{"b":280,"h":-0.15},{"b":281,"h":-0.30},{"b":282,"h":-0.42},
      {"b":283,"h":-0.38},{"b":284,"h":-0.30},{"b":285,"h":-0.22},{"b":286,"h":-0.20},{"b":287,"h":-0.15},{"b":288,"h":-0.10},{"b":289,"h":-0.05},
      {"b":290,"h":-0.30},{"b":291,"h":-0.55},{"b":292,"h":-0.75},{"b":293,"h":-0.85},{"b":294,"h":-0.90},{"b":295,"h":-0.85},{"b":296,"h":-0.70},{"b":297,"h":-0.50},{"b":298,"h":-0.35},{"b":299,"h":-0.25},
      {"b":300,"h":-0.30},{"b":301,"h":-0.40},{"b":302,"h":-0.50},{"b":303,"h":-0.60},{"b":304,"h":-0.65},{"b":305,"h":-0.60},{"b":306,"h":-0.50},{"b":307,"h":-0.35},{"b":308,"h":-0.20},{"b":309,"h":-0.10},{"b":310,"h":-0.03},
      {"b":311,"h":0.10},{"b":312,"h":0.20},{"b":313,"h":0.30},{"b":314,"h":0.36},{"b":315,"h":0.40},{"b":316,"h":0.42},{"b":317,"h":0.40},{"b":318,"h":0.38},{"b":319,"h":0.36},{"b":320,"h":0.35},{"b":321,"h":0.36},{"b":322,"h":0.38},{"b":323,"h":0.40},{"b":324,"h":0.41},{"b":325,"h":0.42},{"b":326,"h":0.41},{"b":327,"h":0.40},{"b":328,"h":0.42},{"b":329,"h":0.44},{"b":330,"h":0.46},{"b":331,"h":0.47},{"b":332,"h":0.48}
    ],
    "macd": [
      {"b":0,"m":0.21},{"b":6,"m":0.34},{"b":12.5,"m":0.21},{"b":21.1,"m":0.17},{"b":27.6,"m":0.34},{"b":31.9,"m":0.76},{"b":36.2,"m":1.18},{"b":40.5,"m":1.18},{"b":44.8,"m":0.92},{"b":49.1,"m":0.84},{"b":55.6,"m":0.71},{"b":62.1,"m":0.84},{"b":66.4,"m":1.05},{"b":70.7,"m":0.76},{"b":75,"m":0.55},{"b":81.5,"m":0.42},{"b":87.9,"m":0.34},{"b":92.3,"m":0.5},{"b":96.6,"m":1.05},{"b":100.9,"m":1.18},{"b":105.2,"m":1.26},{"b":109.5,"m":1.39},{"b":113.8,"m":1.76},{"b":118.1,"m":2.18},{"b":122.4,"m":2.39},{"b":126.8,"m":2.82},{"b":128.9,"m":2.94},{"b":132.1,"m":2.1},{"b":135.4,"m":1.18},{"b":139.7,"m":0.5},{"b":142.9,"m":0.21},{"b":146.2,"m":1.05},{"b":150.5,"m":1.05},{"b":154.8,"m":0.97},{"b":159.1,"m":1.68},{"b":163.4,"m":2.94},{"b":167.7,"m":3.36},{"b":172,"m":3.87},{"b":175.3,"m":4.41},{"b":178.5,"m":5.55},{"b":181.7,"m":4.83},{"b":185,"m":5.25},{"b":188.2,"m":5.67},{"b":191.5,"m":7.23},{"b":194.7,"m":7.86},{"b":196.8,"m":7.98},{"b":199,"m":9.24},{"b":201.2,"m":11.26},{"b":202.2,"m":10.08},{"b":204.4,"m":5.88},{"b":207.6,"m":1.26},{"b":212,"m":-1.26},{"b":215.2,"m":-2.44},{"b":217.3,"m":-1.26},{"b":220.6,"m":0.84},{"b":223.8,"m":1.26},{"b":227,"m":0.42},{"b":230.3,"m":0.42},{"b":232.4,"m":-0.42},{"b":235.7,"m":-2.1},{"b":238.9,"m":-3.45},{"b":242.1,"m":-3.99},{"b":245.4,"m":-2.94},{"b":249.7,"m":-1.89},{"b":254,"m":-0.63},{"b":258.3,"m":0.42},{"b":261.5,"m":-0.21},{"b":264.8,"m":-0.63},{"b":268,"m":-0.76},{"b":271.2,"m":1.05},{"b":274.5,"m":2.18},{"b":277.7,"m":1.26},{"b":282,"m":0.21},{"b":286.3,"m":-0.21},{"b":289.6,"m":-0.84},{"b":292.8,"m":-2.1},{"b":296.1,"m":-2.73},{"b":299.3,"m":-2.52},{"b":302.5,"m":-2.94},{"b":305.8,"m":-3.87},{"b":309,"m":-3.99},{"b":312.2,"m":-3.15},{"b":316.5,"m":-2.73},{"b":320.9,"m":-2.73},{"b":325.2,"m":-2.31},{"b":329,"m":-1.8},{"b":332,"m":-1.45}
    ],
    "signal": [
      {"b":0,"s":0.08},{"b":12.5,"s":0.13},{"b":27.6,"s":0.25},{"b":36.2,"s":0.92},{"b":42.6,"s":1.05},{"b":53.4,"s":0.76},{"b":64.2,"s":0.92},{"b":70.7,"s":0.84},{"b":81.5,"s":0.34},{"b":90.1,"s":0.34},{"b":96.6,"s":0.76},{"b":107.3,"s":1.18},{"b":118.1,"s":1.89},{"b":128.9,"s":2.61},{"b":135.4,"s":1.76},{"b":141.9,"s":0.92},{"b":148.3,"s":0.92},{"b":154.8,"s":0.92},{"b":163.4,"s":2.1},{"b":172,"s":3.15},{"b":178.5,"s":4.41},{"b":185,"s":5.04},{"b":189.3,"s":5.46},{"b":193.6,"s":6.72},{"b":197.9,"s":7.56},{"b":202.2,"s":9.24},{"b":205.5,"s":7.56},{"b":208.7,"s":4.62},{"b":213,"s":1.26},{"b":217.3,"s":-0.84},{"b":220.6,"s":-0.42},{"b":223.8,"s":0.08},{"b":228.1,"s":0.34},{"b":232.4,"s":-0.21},{"b":236.7,"s":-1.26},{"b":241.1,"s":-2.73},{"b":245.4,"s":-3.15},{"b":249.7,"s":-2.73},{"b":254,"s":-1.76},{"b":258.3,"s":-0.42},{"b":262.6,"s":0},{"b":266.9,"s":-0.21},{"b":271.2,"s":0.42},{"b":277.7,"s":1.05},{"b":282,"s":0.63},{"b":286.3,"s":0},{"b":290.7,"s":-1.05},{"b":295,"s":-1.89},{"b":299.3,"s":-2.31},{"b":303.6,"s":-2.73},{"b":307.9,"s":-3.45},{"b":311.1,"s":-3.36},{"b":316.5,"s":-3.07},{"b":323,"s":-2.86},{"b":327.3,"s":-2.44},{"b":332,"s":-1.92}
    ],
    "adx": [
      {"b":0,"a":28.9},{"b":1.7,"a":25.1},{"b":3.8,"a":22.6},{"b":6.0,"a":20.9},{"b":8.1,"a":20.9},{"b":10.3,"a":20.0},{"b":12.5,"a":18.7},{"b":15.7,"a":18.3},{"b":18.9,"a":20.4},{"b":21.1,"a":18.3},{"b":24.3,"a":16.3},{"b":27.6,"a":17.5},{"b":30.8,"a":17.5},{"b":34.0,"a":23.4},{"b":36.2,"a":25.5},{"b":39.4,"a":25.6},{"b":41.6,"a":27.7},{"b":43.7,"a":25.5},{"b":47.0,"a":20.9},{"b":51.3,"a":16.6},{"b":54.5,"a":14.9},{"b":56.7,"a":12.9},{"b":59.9,"a":16.6},{"b":63.1,"a":19.2},{"b":65.3,"a":22.6},{"b":67.5,"a":24.8},{"b":70.7,"a":22.6},{"b":73.9,"a":21.4},{"b":77.2,"a":18.3},{"b":80.4,"a":15.3},{"b":83.6,"a":14.6},{"b":86.9,"a":12.9},{"b":90.1,"a":12.4},{"b":92.3,"a":12.7},{"b":95.5,"a":18.3},{"b":98.7,"a":22.6},{"b":101.9,"a":26.8},{"b":105.2,"a":34.0},{"b":107.3,"a":33.7},{"b":109.5,"a":35.4},{"b":112.7,"a":39.6},{"b":116.0,"a":47.0},{"b":119.2,"a":48.5},{"b":122.4,"a":50.7},{"b":125.7,"a":54.1},{"b":127.8,"a":56.7},{"b":130.0,"a":55.5},{"b":133.2,"a":44.7},{"b":136.5,"a":37.1},{"b":139.7,"a":29.4},{"b":142.9,"a":25.1},{"b":145.7,"a":23.4},{"b":147.9,"a":25.5},{"b":150.5,"a":23.4},{"b":153.1,"a":22.6},{"b":155.9,"a":19.7},{"b":158.0,"a":21.4},{"b":161.3,"a":27.7},{"b":164.5,"a":30.3},{"b":167.7,"a":36.2},{"b":171.0,"a":39.6},{"b":174.2,"a":44.7},{"b":177.4,"a":51.5},{"b":180.7,"a":59.2},{"b":183.9,"a":63.5},{"b":186.1,"a":66.9},{"b":189.3,"a":68.6},{"b":192.5,"a":71.1},{"b":194.7,"a":72.3},{"b":197.9,"a":72.0},{"b":201.8,"a":74.2},{"b":203.9,"a":64.3},{"b":206.5,"a":53.3},{"b":210.9,"a":42.2},{"b":215.2,"a":35.4},{"b":219.5,"a":27.7},{"b":223.8,"a":23.4},{"b":227.0,"a":19.7},{"b":231.4,"a":15.8},{"b":234.6,"a":14.1},{"b":236.7,"a":15.3},{"b":240.0,"a":21.7},{"b":243.2,"a":24.3},{"b":245.4,"a":25.5},{"b":249.7,"a":20.9},{"b":252.9,"a":17.5},{"b":256.2,"a":15.3},{"b":259.4,"a":14.1},{"b":262.6,"a":12.4},{"b":265.9,"a":13.6},{"b":269.1,"a":12.4},{"b":272.3,"a":15.8},{"b":275.6,"a":19.7},{"b":278.8,"a":16.6},{"b":282.0,"a":14.6},{"b":285.3,"a":12.9},{"b":289.6,"a":13.2},{"b":292.4,"a":15.8},{"b":295.0,"a":20.9},{"b":297.6,"a":25.1},{"b":300.4,"a":26.0},{"b":302.5,"a":28.6},{"b":305.8,"a":32.8},{"b":309.0,"a":37.4},{"b":311.1,"a":37.9},{"b":314.4,"a":37.1},{"b":317.6,"a":37.9},{"b":320.9,"a":40.5},{"b":323.0,"a":42.2},{"b":325.2,"a":38.8},{"b":328.4,"a":34.5},{"b":331,"a":31.4},{"b":332,"a":30.72}
    ]
  },
  "vconcat": [
    {
      "width": 1634,
      "height": 300,
      "layer": [
        {
          "data": {"values": [{"lvl": 55}, {"lvl": 45}]},
          "mark": {"type": "rule", "color": "#131722", "strokeWidth": 2, "strokeDash": [14, 8]},
          "encoding": {
            "y": {"field": "lvl", "type": "quantitative", "title": null,
                  "scale": {"domain": [22.43, 132.89], "nice": false, "zero": false},
                  "axis": {"orient": "right", "values": [40, 60, 80, 100, 120], "labelExpr": "datum.value >= 100 ? format(datum.value, '.2f') : ''", "labelPadding": 9, "ticks": false, "domain": false, "grid": true, "labelFlush": false, "labelOverlap": false, "title": null}}
          }
        },
        {
          "data": {"values": [{"lvl": 57.82}]},
          "mark": {"type": "rule", "color": "#f23645", "strokeWidth": 1, "strokeDash": [1.5, 2.5]},
          "encoding": {"y": {"field": "lvl", "type": "quantitative", "title": null}}
        },
        {
          "data": {"name": "candles"},
          "mark": {"type": "rule", "strokeWidth": 1},
          "encoding": {
            "x": {"field": "b", "type": "quantitative", "title": null,
                  "scale": {"domain": [-0.476, 388.57], "nice": false, "zero": false},
                  "axis": {"values": [7.14, 50.24, 94.52, 139.5, 181.67, 223.8, 266.9, 310, 334.05, 364.5], "labels": false, "ticks": false, "domain": false, "grid": true, "title": null, "minExtent": 0, "maxExtent": 0}},
            "y": {"field": "l", "type": "quantitative", "title": null},
            "y2": {"field": "h"},
            "color": {"condition": {"test": "datum.c >= datum.o", "value": "#089981"}, "value": "#f23645"}
          }
        },
        {
          "data": {"name": "candles"},
          "mark": {"type": "bar", "width": 3},
          "encoding": {
            "x": {"field": "b", "type": "quantitative", "title": null},
            "y": {"field": "o", "type": "quantitative", "title": null},
            "y2": {"field": "c"},
            "color": {"condition": {"test": "datum.c >= datum.o", "value": "#089981"}, "value": "#f23645"}
          }
        },
        {
          "data": {"name": "ma100"},
          "mark": {"type": "line", "color": "#00bcd4", "strokeWidth": 2.5, "interpolate": "monotone"},
          "encoding": {"x": {"field": "b", "type": "quantitative", "title": null}, "y": {"field": "v", "type": "quantitative", "title": null}}
        },
        {
          "data": {"name": "ma50"},
          "mark": {"type": "line", "color": "#22ab94", "strokeWidth": 2.5, "interpolate": "monotone"},
          "encoding": {"x": {"field": "b", "type": "quantitative", "title": null}, "y": {"field": "v", "type": "quantitative", "title": null}}
        },
        {
          "data": {"name": "ma21"},
          "mark": {"type": "line", "color": "#e91e63", "strokeWidth": 2.5, "interpolate": "monotone"},
          "encoding": {"x": {"field": "b", "type": "quantitative", "title": null}, "y": {"field": "v", "type": "quantitative", "title": null}}
        },
        {"data": {"values": [{"t": "Index, 1D"}]}, "mark": {"type": "text", "align": "left", "baseline": "middle", "color": "#131722"}, "encoding": {"x": {"datum": 2.14}, "y": {"datum": 124.9}, "text": {"field": "t"}}},
        {"data": {"values": [{"t": "O"}]}, "mark": {"type": "text", "align": "left", "baseline": "middle", "color": "#131722"}, "encoding": {"x": {"datum": 19.29}, "y": {"datum": 124.9}, "text": {"field": "t"}}},
        {"data": {"values": [{"t": "58.90"}]}, "mark": {"type": "text", "align": "left", "baseline": "middle", "color": "#f23645"}, "encoding": {"x": {"datum": 21.9}, "y": {"datum": 124.9}, "text": {"field": "t"}}},
        {"data": {"values": [{"t": "H"}]}, "mark": {"type": "text", "align": "left", "baseline": "middle", "color": "#131722"}, "encoding": {"x": {"datum": 32.86}, "y": {"datum": 124.9}, "text": {"field": "t"}}},
        {"data": {"values": [{"t": "59.17"}]}, "mark": {"type": "text", "align": "left", "baseline": "middle", "color": "#f23645"}, "encoding": {"x": {"datum": 35.24}, "y": {"datum": 124.9}, "text": {"field": "t"}}},
        {"data": {"values": [{"t": "L"}]}, "mark": {"type": "text", "align": "left", "baseline": "middle", "color": "#131722"}, "encoding": {"x": {"datum": 46.19}, "y": {"datum": 124.9}, "text": {"field": "t"}}},
        {"data": {"values": [{"t": "57.04"}]}, "mark": {"type": "text", "align": "left", "baseline": "middle", "color": "#f23645"}, "encoding": {"x": {"datum": 47.86}, "y": {"datum": 124.9}, "text": {"field": "t"}}},
        {"data": {"values": [{"t": "C"}]}, "mark": {"type": "text", "align": "left", "baseline": "middle", "color": "#131722"}, "encoding": {"x": {"datum": 58.81}, "y": {"datum": 124.9}, "text": {"field": "t"}}},
        {"data": {"values": [{"t": "57.82"}]}, "mark": {"type": "text", "align": "left", "baseline": "middle", "color": "#f23645"}, "encoding": {"x": {"datum": 60.95}, "y": {"datum": 124.9}, "text": {"field": "t"}}},
        {"data": {"values": [{"t": "-1.20 (−2.03%)"}]}, "mark": {"type": "text", "align": "left", "baseline": "middle", "color": "#f23645"}, "encoding": {"x": {"datum": 71.9}, "y": {"datum": 124.9}, "text": {"field": "t"}}},
        {"data": {"values": [{"t": "MA (100, close, 0)"}]}, "mark": {"type": "text", "align": "left", "baseline": "middle", "color": "#131722"}, "encoding": {"x": {"datum": 2.14}, "y": {"datum": 117.2}, "text": {"field": "t"}}},
        {"data": {"values": [{"t": "69.83"}]}, "mark": {"type": "text", "align": "left", "baseline": "middle", "color": "#00bcd4"}, "encoding": {"x": {"datum": 33.1}, "y": {"datum": 117.2}, "text": {"field": "t"}}},
        {"data": {"values": [{"t": "MA (50, close, 0)"}]}, "mark": {"type": "text", "align": "left", "baseline": "middle", "color": "#131722"}, "encoding": {"x": {"datum": 2.14}, "y": {"datum": 110.1}, "text": {"field": "t"}}},
        {"data": {"values": [{"t": "63.64"}]}, "mark": {"type": "text", "align": "left", "baseline": "middle", "color": "#22ab94"}, "encoding": {"x": {"datum": 31.2}, "y": {"datum": 110.1}, "text": {"field": "t"}}},
        {"data": {"values": [{"t": "MA (21, close, 0)"}]}, "mark": {"type": "text", "align": "left", "baseline": "middle", "color": "#131722"}, "encoding": {"x": {"datum": 2.14}, "y": {"datum": 102.7}, "text": {"field": "t"}}},
        {"data": {"values": [{"t": "58.52"}]}, "mark": {"type": "text", "align": "left", "baseline": "middle", "color": "#e91e63"}, "encoding": {"x": {"datum": 31.2}, "y": {"datum": 102.7}, "text": {"field": "t"}}},
        {"data": {"values": [{"t": "69.83"}]}, "layer": [
          {"mark": {"type": "rect", "color": "#00bcd4", "cornerRadius": 2}, "encoding": {"x": {"datum": 388.57}, "x2": {"datum": 401.4}, "y": {"datum": 85.02}, "y2": {"datum": 77.4}}},
          {"mark": {"type": "text", "align": "left", "baseline": "middle", "color": "#131722"}, "encoding": {"x": {"datum": 391.0}, "y": {"datum": 81.2}, "text": {"field": "t"}}}
        ]},
        {"data": {"values": [{"t": "63.64"}]}, "layer": [
          {"mark": {"type": "rect", "color": "#22ab94", "cornerRadius": 2}, "encoding": {"x": {"datum": 388.57}, "x2": {"datum": 401.4}, "y": {"datum": 77.29}, "y2": {"datum": 69.67}}},
          {"mark": {"type": "text", "align": "left", "baseline": "middle", "color": "#ffffff"}, "encoding": {"x": {"datum": 391.0}, "y": {"datum": 73.5}, "text": {"field": "t"}}}
        ]},
        {"data": {"values": [{"t": "58.52"}]}, "layer": [
          {"mark": {"type": "rect", "color": "#e91e63", "cornerRadius": 2}, "encoding": {"x": {"datum": 388.57}, "x2": {"datum": 401.4}, "y": {"datum": 69.56}, "y2": {"datum": 61.94}}},
          {"mark": {"type": "text", "align": "left", "baseline": "middle", "color": "#ffffff"}, "encoding": {"x": {"datum": 391.0}, "y": {"datum": 65.75}, "text": {"field": "t"}}}
        ]},
        {"data": {"values": [{"t": "57.82"}]}, "layer": [
          {"mark": {"type": "rect", "color": "#f23645", "cornerRadius": 2}, "encoding": {"x": {"datum": 388.57}, "x2": {"datum": 401.4}, "y": {"datum": 61.83}, "y2": {"datum": 54.09}}},
          {"mark": {"type": "text", "align": "left", "baseline": "middle", "color": "#ffffff"}, "encoding": {"x": {"datum": 391.0}, "y": {"datum": 57.96}, "text": {"field": "t"}}}
        ]},
        {"data": {"values": [{"t": "55.00"}]}, "layer": [
          {"mark": {"type": "rect", "color": "#131722", "cornerRadius": 2}, "encoding": {"x": {"datum": 388.57}, "x2": {"datum": 401.4}, "y": {"datum": 53.73}, "y2": {"datum": 46.0}}},
          {"mark": {"type": "text", "align": "left", "baseline": "middle", "color": "#ffffff"}, "encoding": {"x": {"datum": 391.0}, "y": {"datum": 49.87}, "text": {"field": "t"}}}
        ]},
        {"data": {"values": [{"t": "45.00"}]}, "layer": [
          {"mark": {"type": "rect", "color": "#131722", "cornerRadius": 2}, "encoding": {"x": {"datum": 388.57}, "x2": {"datum": 401.4}, "y": {"datum": 45.74}, "y2": {"datum": 38.37}}},
          {"mark": {"type": "text", "align": "left", "baseline": "middle", "color": "#ffffff"}, "encoding": {"x": {"datum": 391.0}, "y": {"datum": 42.06}, "text": {"field": "t"}}}
        ]}
      ]
    },
    {
      "width": 1634,
      "height": 151,
      "layer": [
        {
          "data": {"values": [{"lo": 30, "hi": 70}]},
          "mark": {"type": "rect", "color": "#7e57c2", "opacity": 0.1},
          "encoding": {
            "x": {"datum": -0.476, "scale": {"domain": [-0.476, 388.57], "nice": false, "zero": false},
                  "axis": {"values": [7.14, 50.24, 94.52, 139.5, 181.67, 223.8, 266.9, 310, 334.05, 364.5], "labels": false, "ticks": false, "domain": false, "grid": true, "title": null, "minExtent": 0, "maxExtent": 0}},
            "x2": {"datum": 388.57},
            "y": {"field": "lo", "type": "quantitative", "title": null,
                  "scale": {"domain": [22.26, 93.32], "nice": false, "zero": false},
                  "axis": {"orient": "right", "values": [40, 60, 80], "format": ".2f", "labelPadding": 9, "ticks": false, "domain": false, "grid": true, "labelFlush": false, "labelOverlap": false, "title": null}},
            "y2": {"field": "hi"}
          }
        },
        {
          "data": {"values": [{"lvl": 70}, {"lvl": 50}, {"lvl": 30}]},
          "mark": {"type": "rule", "color": "#787b86", "strokeWidth": 1, "strokeDash": [4, 3]},
          "encoding": {"y": {"field": "lvl", "type": "quantitative", "title": null}}
        },
        {
          "data": {"name": "rsi"},
          "mark": {"type": "line", "color": "#9a4fc6", "strokeWidth": 1},
          "encoding": {"x": {"field": "b", "type": "quantitative", "title": null}, "y": {"field": "r", "type": "quantitative", "title": null}}
        },
        {"data": {"values": [{"t": "RSI (14)"}]}, "mark": {"type": "text", "align": "left", "baseline": "middle", "color": "#131722"}, "encoding": {"x": {"datum": 2.14}, "y": {"datum": 83.4}, "text": {"field": "t"}}},
        {"data": {"values": [{"t": "44.17"}]}, "mark": {"type": "text", "align": "left", "baseline": "middle", "color": "#9a4fc6"}, "encoding": {"x": {"datum": 16.67}, "y": {"datum": 83.4}, "text": {"field": "t"}}},
        {"data": {"values": [{"t": "44.17"}]}, "layer": [
          {"mark": {"type": "rect", "color": "#9a4fc6", "cornerRadius": 2}, "encoding": {"x": {"datum": 388.57}, "x2": {"datum": 401.4}, "y": {"datum": 49.41}, "y2": {"datum": 40.0}}},
          {"mark": {"type": "text", "align": "left", "baseline": "middle", "color": "#ffffff"}, "encoding": {"x": {"datum": 391.0}, "y": {"datum": 44.7}, "text": {"field": "t"}}}
        ]},
        {
          "data": {"values": [{"edge": 93.32}]},
          "mark": {"type": "rule", "color": "#e0e3eb", "strokeWidth": 1.5},
          "encoding": {"x": {"datum": -0.476}, "x2": {"datum": 404.5}, "y": {"field": "edge", "type": "quantitative", "title": null}}
        }
      ]
    },
    {
      "width": 1634,
      "height": 151,
      "layer": [
        {
          "data": {"name": "hist"},
          "transform": [{"window": [{"op": "lag", "field": "h", "as": "hp"}], "sort": [{"field": "b", "order": "ascending"}]}],
          "mark": {"type": "bar", "width": 3},
          "encoding": {
            "x": {"field": "b", "type": "quantitative", "title": null,
                  "scale": {"domain": [-0.476, 388.57], "nice": false, "zero": false},
                  "axis": {"values": [7.14, 50.24, 94.52, 139.5, 181.67, 223.8, 266.9, 310, 334.05, 364.5], "labels": false, "ticks": false, "domain": false, "grid": true, "title": null, "minExtent": 0, "maxExtent": 0}},
            "y": {"field": "h", "type": "quantitative", "title": null,
                  "scale": {"domain": [-5.885, 13.35], "nice": false, "zero": false},
                  "axis": {"orient": "right", "values": [-5, 0, 5, 10], "labelExpr": "datum.value >= 5 ? format(datum.value, '.2f') : ''", "labelPadding": 9, "ticks": false, "domain": false, "grid": true, "labelFlush": false, "labelOverlap": false, "title": null}},
            "y2": {"datum": 0},
            "color": {
              "condition": [
                {"test": "datum.h >= 0 && (datum.hp == null || datum.h >= datum.hp)", "value": "#26a69a"},
                {"test": "datum.h >= 0", "value": "#b2dfdb"},
                {"test": "datum.hp == null || datum.h <= datum.hp", "value": "#ff5252"}
              ],
              "value": "#ffcdd2"
            }
          }
        },
        {
          "data": {"name": "macd"},
          "mark": {"type": "line", "color": "#2196f3", "strokeWidth": 1.2},
          "encoding": {"x": {"field": "b", "type": "quantitative", "title": null}, "y": {"field": "m", "type": "quantitative", "title": null}}
        },
        {
          "data": {"name": "signal"},
          "mark": {"type": "line", "color": "#ff6d00", "strokeWidth": 1.2},
          "encoding": {"x": {"field": "b", "type": "quantitative", "title": null}, "y": {"field": "s", "type": "quantitative", "title": null}}
        },
        {"data": {"values": [{"t": "MACD (12, 26, close, 9)"}]}, "mark": {"type": "text", "align": "left", "baseline": "middle", "color": "#131722"}, "encoding": {"x": {"datum": 2.14}, "y": {"datum": 10.71}, "text": {"field": "t"}}},
        {"data": {"values": [{"t": "0.48"}]}, "mark": {"type": "text", "align": "left", "baseline": "middle", "color": "#b2dfdb"}, "encoding": {"x": {"datum": 41.67}, "y": {"datum": 10.71}, "text": {"field": "t"}}},
        {"data": {"values": [{"t": "-1.45"}]}, "mark": {"type": "text", "align": "left", "baseline": "middle", "color": "#2196f3"}, "encoding": {"x": {"datum": 50.71}, "y": {"datum": 10.71}, "text": {"field": "t"}}},
        {"data": {"values": [{"t": "-1.92"}]}, "mark": {"type": "text", "align": "left", "baseline": "middle", "color": "#ff6d00"}, "encoding": {"x": {"datum": 61.19}, "y": {"datum": 10.71}, "text": {"field": "t"}}},
        {"data": {"values": [{"t": "0.48"}]}, "layer": [
          {"mark": {"type": "rect", "color": "#b2dfdb", "cornerRadius": 2}, "encoding": {"x": {"datum": 388.57}, "x2": {"datum": 399.5}, "y": {"datum": 1.72}, "y2": {"datum": -0.75}}},
          {"mark": {"type": "text", "align": "left", "baseline": "middle", "color": "#131722"}, "encoding": {"x": {"datum": 391.0}, "y": {"datum": 0.48}, "text": {"field": "t"}}}
        ]},
        {"data": {"values": [{"t": "-1.45"}]}, "layer": [
          {"mark": {"type": "rect", "color": "#2196f3", "cornerRadius": 2}, "encoding": {"x": {"datum": 388.57}, "x2": {"datum": 400.8}, "y": {"datum": -0.96}, "y2": {"datum": -3.5}}},
          {"mark": {"type": "text", "align": "left", "baseline": "middle", "color": "#ffffff"}, "encoding": {"x": {"datum": 391.0}, "y": {"datum": -2.23}, "text": {"field": "t"}}}
        ]},
        {"data": {"values": [{"t": "-1.92"}]}, "layer": [
          {"mark": {"type": "rect", "color": "#ff6d00", "cornerRadius": 2}, "encoding": {"x": {"datum": 388.57}, "x2": {"datum": 400.8}, "y": {"datum": -3.72}, "y2": {"datum": -5.885}}},
          {"mark": {"type": "text", "align": "left", "baseline": "middle", "color": "#ffffff"}, "encoding": {"x": {"datum": 391.0}, "y": {"datum": -4.7}, "text": {"field": "t"}}}
        ]},
        {
          "data": {"values": [{"edge": 13.35}]},
          "mark": {"type": "rule", "color": "#e0e3eb", "strokeWidth": 1.5},
          "encoding": {"x": {"datum": -0.476}, "x2": {"datum": 404.5}, "y": {"field": "edge", "type": "quantitative", "title": null}}
        }
      ]
    },
    {
      "width": 1634,
      "height": 150,
      "layer": [
        {
          "data": {"name": "adx"},
          "mark": {"type": "line", "color": "#f7525f", "strokeWidth": 1.2},
          "encoding": {
            "x": {"field": "b", "type": "quantitative", "title": null,
                  "scale": {"domain": [-0.476, 388.57], "nice": false, "zero": false},
                  "axis": {"values": [7.14, 50.24, 94.52, 139.5, 181.67, 223.8, 266.9, 310, 334.05, 364.5],
                           "labelExpr": "datum.value < 20 ? 'May' : datum.value < 70 ? 'Jul' : datum.value < 110 ? 'Sep' : datum.value < 160 ? 'Nov' : datum.value < 200 ? '2026' : datum.value < 240 ? 'Mar' : datum.value < 290 ? 'May' : datum.value < 320 ? 'Jul' : datum.value < 350 ? '2' : 'Sep'",
                           "labelFontWeight": {"condition": {"test": "datum.value > 181 && datum.value < 182", "value": "bold"}, "value": "normal"},
                           "labelPadding": 9, "labelOverlap": false, "labelFlush": false, "ticks": false, "domain": false, "grid": true, "title": null}},
            "y": {"field": "a", "type": "quantitative", "title": null,
                  "scale": {"domain": [5.32, 82.05], "nice": false, "zero": false},
                  "axis": {"orient": "right", "values": [20, 40, 60, 80], "format": ".2f", "labelPadding": 9, "ticks": false, "domain": false, "grid": true, "labelFlush": false, "labelOverlap": false, "title": null}}
          }
        },
        {"data": {"values": [{"t": "ADX (14, 14)"}]}, "mark": {"type": "text", "align": "left", "baseline": "middle", "color": "#131722"}, "encoding": {"x": {"datum": 2.14}, "y": {"datum": 71.8}, "text": {"field": "t"}}},
        {"data": {"values": [{"t": "30.72"}]}, "mark": {"type": "text", "align": "left", "baseline": "middle", "color": "#f7525f"}, "encoding": {"x": {"datum": 24.29}, "y": {"datum": 71.8}, "text": {"field": "t"}}},
        {"data": {"values": [{"t": "30.72"}]}, "layer": [
          {"mark": {"type": "rect", "color": "#f7525f", "cornerRadius": 2}, "encoding": {"x": {"datum": 388.57}, "x2": {"datum": 401.4}, "y": {"datum": 35.86}, "y2": {"datum": 25.42}}},
          {"mark": {"type": "text", "align": "left", "baseline": "middle", "color": "#ffffff"}, "encoding": {"x": {"datum": 391.0}, "y": {"datum": 30.64}, "text": {"field": "t"}}}
        ]},
        {
          "data": {"values": [{"edge": 82.05}]},
          "mark": {"type": "rule", "color": "#e0e3eb", "strokeWidth": 1.5},
          "encoding": {"x": {"datum": -0.476}, "x2": {"datum": 404.5}, "y": {"field": "edge", "type": "quantitative", "title": null}}
        }
      ]
    }
  ]
}
